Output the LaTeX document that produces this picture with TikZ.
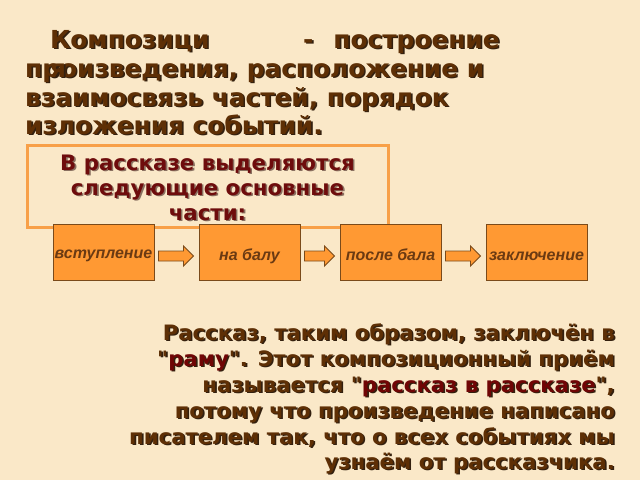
\documentclass[tikz,border=0pt]{standalone}
\usepackage{fontspec}
\newfontfamily\mainf{DejaVu Sans}
\newfontfamily\boxfont{Liberation Sans}
\usetikzlibrary{calc}
\definecolor{bg}{HTML}{FAE8C8}
\definecolor{txtbrown}{HTML}{5E2F05}
\definecolor{shd}{HTML}{33200F}
\definecolor{hlred}{HTML}{700505}
\definecolor{boxred}{HTML}{6E0C0C}
\definecolor{boxshd}{HTML}{8A7060}
\definecolor{frameor}{HTML}{F8A048}
\definecolor{partfill}{HTML}{FF9933}
\definecolor{partline}{HTML}{7A4A1A}
\definecolor{parttxt}{HTML}{6B3A12}
\newcommand\hl[1]{{\color{hlred}#1}}
\newcommand\dq{"}
% text with drop shadow
\newcommand\shtxt[2]{\makebox[0pt][l]{\kern1.6pt\raisebox{-1.6pt}{\begingroup\renewcommand\hl[1]{##1}\color{#1}#2\endgroup}}#2}
\tikzset{
  titletext/.style={inner sep=0pt, anchor=base west, font=\mainf\fontsize{24.8}{28}\selectfont\bfseries, text=txtbrown},
  boxtext/.style={inner sep=0pt, anchor=base, font=\mainf\fontsize{21.3}{24}\selectfont\bfseries, text=boxred},
  endtext/.style={inner sep=0pt, anchor=base east, font=\mainf\fontsize{21.2}{24}\selectfont\bfseries, text=txtbrown},
  frame/.style={draw=frameor, line width=3pt},
  part/.style={draw=partline, line width=1pt, fill=partfill, minimum width=101pt, minimum height=56pt, inner sep=0pt,
    text height=16pt, text depth=0pt,
    font=\boxfont\fontsize{16}{18}\selectfont\bfseries\itshape, text=parttxt},
  barrow/.style={draw=partline, line width=0.9pt, fill=partfill, line join=miter},
}
\newcommand\blockarrow[2]{%
  \filldraw[barrow] ($(#1.east)+(4,9)$) -- ($(#2.west)+(-15,9)$) -- ($(#2.west)+(-15,14)$) --
    ($(#2.west)+(-5,4)$) -- ($(#2.west)+(-15,-6)$) -- ($(#2.west)+(-15,-1)$) -- ($(#1.east)+(4,-1)$) -- cycle;}
\begin{document}
\begin{tikzpicture}[x=1pt,y=-1pt]
\fill[bg] (0,0) rectangle (640,480);
\useasboundingbox (0,0) rectangle (640,480);

% title
\node[titletext] (t1a) at (50,48) {\shtxt{shd}{Композици}};
\node[titletext] (t1b) at (303,48) {\shtxt{shd}{-\hspace{20pt}построение}};
\node[titletext] (t2) at (25,77) {\shtxt{shd}{произведения, расположение и}};
\node[titletext] (t2y) at (50,77) {\shtxt{shd}{я}};
\node[titletext] (t3) at (25,106) {\shtxt{shd}{взаимосвязь частей, порядок}};
\node[titletext] (t4) at (25,134) {\shtxt{shd}{изложения событий.}};

% frame box
\draw[frame] (27,145) rectangle (388,227);
\node[boxtext] (b1) at (207.5,170) {\shtxt{boxshd}{В рассказе выделяются}};
\node[boxtext] (b2) at (207.5,195) {\shtxt{boxshd}{следующие основные}};
\node[boxtext] (b3) at (207.5,220) {\shtxt{boxshd}{части:}};

% parts
\node[part, text height=12pt] (p1) at (103.5,252) {вступление};
\node[part] (p2) at (249.5,252) {на балу};
\node[part] (p3) at (390.5,252) {после бала};
\node[part] (p4) at (536.5,252) {заключение};
\blockarrow{p1}{p2}
\blockarrow{p2}{p3}
\blockarrow{p3}{p4}

% conclusion
\node[endtext] (e1) at (615,340) {\shtxt{shd}{Рассказ, таким образом, заключён в}};
\node[endtext] (e2) at (615,366) {\shtxt{shd}{\dq\hl{раму}\dq. Этот композиционный приём}};
\node[endtext] (e3) at (615,392) {\shtxt{shd}{называется \dq\hl{рассказ в рассказе}\dq,}};
\node[endtext] (e4) at (615,418) {\shtxt{shd}{потому что произведение написано}};
\node[endtext] (e5) at (615,444) {\shtxt{shd}{писателем так, что о всех событиях мы}};
\node[endtext] (e6) at (615,469) {\shtxt{shd}{узнаём от рассказчика.}};
\end{tikzpicture}
\end{document}
